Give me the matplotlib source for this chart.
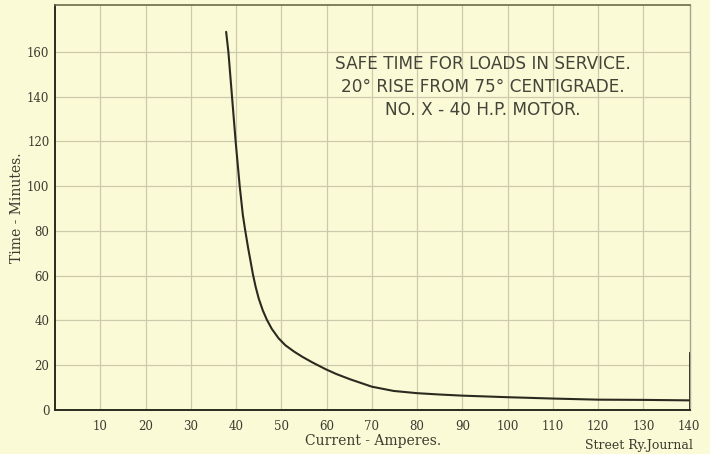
import matplotlib
matplotlib.use("Agg")
import matplotlib.pyplot as plt

# Safe running time of a No. X 40 H.P. motor against load current
current_amperes = [37.8, 38.3, 39.1, 39.9, 40.8, 41.5, 42.05, 42.65, 43.3, 43.7, 44.3,
                   45.0, 45.9, 46.8, 47.9, 49.4, 50.9, 52.8, 54.6, 56.9, 59.8, 62.1,
                   65.2, 70.0, 74.8, 80.0, 85.0, 90.0, 100.0, 110.0, 120.0, 130.0, 140.0]
time_minutes = [169.0, 160.0, 140.0, 120.0, 100.0, 87.0, 79.8, 72.5, 65.3, 60.8, 55.2,
                49.8, 44.5, 40.3, 36.2, 32.0, 28.9, 26.1, 23.8, 21.2, 18.2, 16.1,
                13.7, 10.4, 8.5, 7.5, 6.9, 6.4, 5.7, 5.1, 4.6, 4.5, 4.3]

x_ticks = [10, 20, 30, 40, 50, 60, 70, 80, 90, 100, 110, 120, 130, 140]
y_ticks = [0, 20, 40, 60, 80, 100, 120, 140, 160]
x_grid = [10, 20, 30, 40, 50, 60, 70, 80, 90, 100, 110, 120, 130]
y_grid = [20, 40, 60, 80, 100, 120, 140, 160]

title_lines = ["SAFE TIME FOR LOADS IN SERVICE.",
               "20° RISE FROM 75° CENTIGRADE.",
               "NO. X - 40 H.P. MOTOR."]

paper = "#fbfad6"
ink = "#2b2a20"
grid_col = "#cdc9ad"
text_col = "#3c3b30"

fig = plt.figure(figsize=(7.10, 4.54), dpi=100, facecolor=paper)
ax = fig.add_axes([0.0775, 0.097, 0.8945, 0.892], facecolor=paper)

ax.set_xlim(0, 140.3)
ax.set_ylim(0, 181)

# ruled paper
for gx in x_grid:
    ax.axvline(gx, color=grid_col, lw=0.9, zorder=1)
for gy in y_grid:
    ax.axhline(gy, color=grid_col, lw=0.9, zorder=1)

ax.plot(current_amperes, time_minutes, color=ink, lw=1.5, zorder=3,
        solid_capstyle="round", solid_joinstyle="round")

ax.set_xticks(x_ticks)
ax.set_yticks(y_ticks)
ax.tick_params(length=0, pad=4, labelcolor=text_col)
for lab in ax.get_xticklabels() + ax.get_yticklabels():
    lab.set_fontfamily("DejaVu Serif")
    lab.set_fontsize(8.5)
ax.tick_params(axis="x", pad=7)

for side in ("left", "bottom"):
    ax.spines[side].set_color(ink)
    ax.spines[side].set_linewidth(1.4)
ax.spines["top"].set_color("#6e6a48")
ax.spines["top"].set_linewidth(1.2)
ax.spines["right"].set_color("#a9a58c")
ax.spines["right"].set_linewidth(1.0)
ax.axvline(140.3, ymin=0, ymax=0.14, color=ink, lw=1.3, zorder=4)

ax.set_xlabel("Current - Amperes.", family="DejaVu Serif", fontsize=10,
              color=text_col, labelpad=1)
ax.set_ylabel("Time - Minutes.", family="DejaVu Serif", fontsize=10,
              color=text_col, labelpad=2)

for i, line in enumerate(title_lines):
    fig.text(0.680, 0.859 - i * 0.0505, line, ha="center", va="center",
             family="DejaVu Sans", fontsize=12.2, color="#45443a")

fig.text(0.976, 0.004, "Street Ry.Journal", ha="right", va="bottom",
         family="DejaVu Serif", fontsize=9, color=text_col)

fig.savefig("out.png", dpi=100, facecolor=paper)
